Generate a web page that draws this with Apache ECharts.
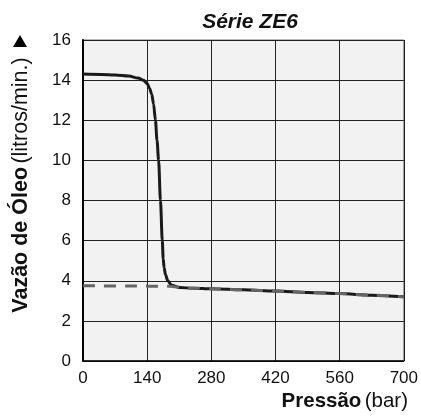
<!DOCTYPE html>
<html>
<head>
<meta charset="utf-8">
<script src="https://cdn.jsdelivr.net/npm/echarts@6/dist/echarts.min.js"></script>
<style>html,body{margin:0;padding:0;background:#fff}#c{width:421px;height:417px}</style>
</head>
<body>
<div id="c"></div>
<script>
// Data
var titleText = 'Série ZE6';
var xTicks = [0, 140, 280, 420, 560, 700];
var yTicks = [0, 2, 4, 6, 8, 10, 12, 14, 16];
var curvePressure = [0, 40, 70, 100, 120, 132, 140, 145, 150, 154, 158, 161.5, 165, 169, 173, 175, 177, 180, 185, 193, 211, 240, 280, 350, 420, 490, 560, 630, 700];
var curveFlow     = [14.3, 14.28, 14.25, 14.2, 14.1, 14.0, 13.83, 13.6, 13.3, 12.8, 12.0, 11.0, 10.0, 8.0, 6.0, 5.1, 4.65, 4.3, 4.0, 3.78, 3.66, 3.63, 3.6, 3.55, 3.49, 3.42, 3.36, 3.28, 3.2];
var dashPressure = [0, 100, 190, 211, 240, 280, 350, 420, 490, 560, 630, 700];
var dashFlow     = [3.75, 3.74, 3.72, 3.67, 3.63, 3.6, 3.55, 3.49, 3.42, 3.36, 3.28, 3.2];

var FONT = '"Liberation Sans", Arial, Helvetica, sans-serif';
function pairs(xs, ys){ return xs.map(function(x,i){ return [x, ys[i]]; }); }

var chart = echarts.init(document.getElementById('c'), null, {renderer:'canvas'});
chart.setOption({
  animation: false,
  backgroundColor: '#fff',
  title: {
    text: titleText, left: 245, top: 7, textAlign: 'center',
    textStyle: {fontFamily: FONT, fontSize: 21, fontWeight: 'bold', fontStyle: 'italic', color: '#111'}
  },
  grid: {left: 83, right: 16, top: 40, bottom: 56, show: true, backgroundColor: '#f2f2f2', borderColor: '#777', borderWidth: 1},
  xAxis: {
    type: 'value', min: xTicks[0], max: xTicks[xTicks.length-1], interval: xTicks[1]-xTicks[0],
    axisLine: {show: true, onZero: false, lineStyle: {color: '#000', width: 1.5}},
    axisTick: {show: false},
    splitLine: {show: true, lineStyle: {color: '#222', width: 1}},
    axisLabel: {fontFamily: FONT, fontSize: 17, color: '#111', margin: 9}
  },
  yAxis: {
    type: 'value', min: yTicks[0], max: yTicks[yTicks.length-1], interval: yTicks[1]-yTicks[0],
    axisLine: {show: true, onZero: false, lineStyle: {color: '#000', width: 2}},
    axisTick: {show: false},
    splitLine: {show: true, lineStyle: {color: '#222', width: 1}},
    axisLabel: {fontFamily: FONT, fontSize: 17, color: '#111', margin: 12}
  },
  series: [
    {type: 'line', data: pairs(curvePressure, curveFlow), showSymbol: false, smooth: 0.3, smoothMonotone: 'x',
     lineStyle: {color: '#1a1a1a', width: 3}, z: 3},
    {type: 'line', data: pairs(dashPressure, dashFlow), showSymbol: false, smooth: 0.3, smoothMonotone: 'x',
     lineStyle: {color: '#666', width: 3, type: [12, 9]}, z: 4}
  ],
  graphic: [
    {type: 'text', x: 21, y: 185, rotation: Math.PI/2,
     style: {text: '{b|Vazão de Óleo} {r|(litros/min.)}', align: 'center', verticalAlign: 'middle',
             textAlign: 'center', textVerticalAlign: 'middle',
             rich: {b: {fontFamily: FONT, fontSize: 21.5, fontWeight: 'bold', fill: '#111', color: '#111'},
                    r: {fontFamily: FONT, fontSize: 21.5, fill: '#111', color: '#111'}}}},
    {type: 'polygon', shape: {points: [[13, 47], [27, 47], [20, 35]]}, style: {fill: '#000'}},
    {type: 'text', x: 408, y: 401,
     style: {text: '{b|Pressão} {r|(bar)}', align: 'right', verticalAlign: 'middle',
             textAlign: 'right', textVerticalAlign: 'middle',
             rich: {b: {fontFamily: FONT, fontSize: 20.5, fontWeight: 'bold', fill: '#111', color: '#111'},
                    r: {fontFamily: FONT, fontSize: 20.5, fill: '#111', color: '#111'}}}}
  ]
});
</script>
</body>
</html>
